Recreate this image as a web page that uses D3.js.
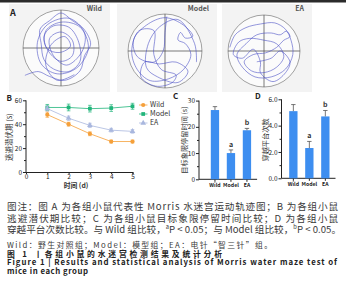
<!DOCTYPE html>
<html><head><meta charset="utf-8">
<script src="https://cdn.jsdelivr.net/npm/d3@7"></script>
<style>
html,body{margin:0;padding:0;background:#fff;}
svg{display:block;}
text{font-family:"Noto Sans CJK SC","Noto Sans",sans-serif;}
</style></head>
<body>
<svg id="c" width="346" height="300"></svg>
<script>
// ---------- DATA ----------
const groups = ["Wild", "Model", "EA"];
const days = [1, 2, 3, 4, 5];
const latencyWild  = [48, 40, 32, 25.5, 25.5];
const latencyModel = [54, 54, 53, 53.5, 55];
const latencyEA    = [53, 45, 39, 35, 34];
const latencyErrWild  = [2.2, 1.6, 1.6, 1.2, 1.2];
const latencyErrModel = [2.5, 2.8, 2.8, 2.8, 2.5];
const latencyErrEA    = [2, 1.8, 1.8, 1.5, 1.5];
const dayTicks = [0, 1, 2, 3, 4, 5];
const latencyTicks = [0, 20, 40, 60];
const quadrantTime = [26.4, 10, 18.7];
const quadrantErr  = [1.3, 1.2, 0.7];
const quadrantTicks = [0, 10, 20, 30];
const quadrantSig = ["", "a", "b"];
const crossings = [5.1, 2.3, 4.7];
const crossingsErr = [0.5, 0.5, 0.45];
const crossingTicks = [0, 2, 4, 6];
const crossingSig = ["", "a", "b"];

// swim paths, pool-normalised coordinates (-1..1)
const pathWild = [[-0.95,0.72],[-0.6,0.62],[-0.3,0.75],[0.1,0.85],[0.5,0.6],[0.62,0.2],[0.78,-0.1],[0.6,-0.5],[0.3,-0.72],[0.0,-0.92],[-0.3,-0.72],[-0.55,-0.5],[-0.52,-0.1],[-0.45,0.3],[-0.2,0.55],[0.2,0.62],[0.5,0.35],[0.45,-0.2],[0.2,-0.55],[-0.2,-0.58],[-0.45,-0.3],[-0.32,0.1],[0.0,0.35],[0.3,0.2],[0.3,-0.2],[0.0,-0.42],[-0.3,-0.25],[-0.2,0.2],[0.15,0.45],[0.55,0.1],[0.62,-0.4],[0.22,-0.78],[-0.35,-0.62],[-0.62,-0.15],[-0.52,0.42],[-0.1,0.68],[0.42,0.52],[0.72,0.0],[0.5,-0.55],[0.0,-0.68],[-0.4,-0.45],[-0.38,0.0],[-0.05,0.12],[0.25,-0.05],[0.1,-0.3],[-0.25,-0.1],[-0.4,0.45],[-0.1,0.85],[0.35,0.7]];
const pathModel = [[0.05,-0.93],[0.0,-0.5],[-0.05,0.0],[-0.3,0.3],[-0.75,0.15],[-0.85,-0.3],[-0.5,-0.7],[0.0,-0.9],[0.5,-0.7],[0.75,-0.4],[0.55,-0.35],[0.42,-0.5],[0.35,-0.3],[0.55,-0.2],[0.7,0.1],[0.5,0.5],[0.1,0.75],[-0.4,0.8],[-0.75,0.5],[-0.9,0.0],[-0.7,-0.55],[-0.3,-0.55],[-0.3,0.1],[-0.1,0.5],[0.3,0.65],[0.2,0.85],[-0.25,0.95],[-0.65,0.7],[-0.55,0.3],[-0.15,0.35],[0.3,0.3],[0.62,0.55],[0.35,0.85],[-0.2,0.7],[-0.5,0.45],[-0.45,-0.2],[-0.15,-0.65],[0.35,-0.85],[0.8,-0.2],[0.85,0.3]];
const pathEA = [[-0.95,-0.1],[-0.8,-0.45],[-0.5,-0.65],[-0.1,-0.75],[0.3,-0.78],[0.6,-0.6],[0.75,-0.3],[0.8,0.1],[0.6,0.5],[0.2,0.72],[-0.25,0.72],[-0.6,0.45],[-0.75,0.1],[-0.5,-0.2],[-0.2,-0.45],[0.2,-0.5],[0.45,-0.45],[0.62,-0.55],[0.72,-0.4],[0.55,-0.3],[0.35,-0.1],[0.05,0.05],[-0.3,0.1],[-0.55,0.3],[-0.35,0.55],[0.0,0.6],[0.35,0.45],[0.55,0.15],[0.35,-0.2],[0.0,-0.3],[-0.4,-0.35],[-0.7,-0.25],[-0.85,0.1],[-0.6,0.2],[-0.3,-0.05],[-0.1,0.3],[-0.1,0.6],[0.25,0.85],[0.6,0.6],[0.72,0.3],[0.45,0.0],[0.2,0.2],[-0.2,0.3]];

// ---------- DRAW ----------
const svg = d3.select("#c");
const sans = "Liberation Sans, Arial, sans-serif";
const capFont = "'Liberation Sans', 'Noto Sans CJK SC', sans-serif";

// top band
svg.append("rect").attr("x",0).attr("y",0).attr("width",346).attr("height",2.5).attr("fill","#2b2b2b");

// ---- Panel A ----
const poolPanels = [
  {name:"Wild",  x0:9,   x1:110, cx:61,  cy:48, r:38, path:pathWild},
  {name:"Model", x0:117, x1:217, cx:165, cy:51, r:37, path:pathModel},
  {name:"EA",    x0:222, x1:312, cx:264, cy:51, r:36, path:pathEA}
];
poolPanels.forEach(p => {
  const g = svg.append("g");
  g.append("rect").attr("x",p.x0).attr("y",4).attr("width",p.x1-p.x0).attr("height",88).attr("fill","#f3f3f3");
  g.append("circle").attr("cx",p.cx).attr("cy",p.cy).attr("r",p.r).attr("fill","#fbfbfb").attr("stroke","#8a8a8a").attr("stroke-width",0.8);
  g.append("line").attr("x1",p.cx-p.r).attr("x2",p.cx+p.r).attr("y1",p.cy).attr("y2",p.cy).attr("stroke","#444").attr("stroke-width",0.7);
  g.append("line").attr("x1",p.cx).attr("x2",p.cx).attr("y1",p.cy-p.r).attr("y2",p.cy+p.r).attr("stroke","#444").attr("stroke-width",0.7);
  const sx = d3.scaleLinear().domain([-1,1]).range([p.cx-p.r, p.cx+p.r]);
  const sy = d3.scaleLinear().domain([-1,1]).range([p.cy-p.r, p.cy+p.r]);
  g.append("path").datum(p.path)
    .attr("d", d3.line().x(d=>sx(d[0])).y(d=>sy(d[1])).curve(d3.curveCatmullRom.alpha(0.5)))
    .attr("fill","none").attr("stroke","#4a4fc4").attr("stroke-width",0.65).attr("opacity",0.9);
  g.append("text").attr("x",p.x1-8).attr("y",11).attr("text-anchor","end")
    .attr("font-size",7).attr("font-weight","bold").attr("fill","#555").attr("font-family",sans).text(p.name);
});
svg.append("text").attr("x",10).attr("y",16).attr("font-size",9).attr("font-weight","bold").attr("fill","#222").attr("font-family",sans).text("A");

// ---- Panel B ----
const xB = d3.scaleLinear().domain([0,5]).range([26,132.5]);
const yB = d3.scaleLinear().domain([0,60]).range([172,100.3]);
const gB = svg.append("g");
gB.append("g").attr("transform","translate(26,0)")
  .call(d3.axisLeft(yB).tickValues(latencyTicks).tickSize(3).tickPadding(1).tickFormat(d3.format("d")))
  .call(g=>g.select(".domain").attr("d","M0,100.3V172"));
gB.append("g").attr("transform","translate(26,0)")
  .call(d3.axisLeft(yB).tickValues([10,30,50]).tickSize(2).tickFormat(""))
  .call(g=>g.select(".domain").remove());
gB.append("g").attr("transform","translate(0,172)")
  .call(d3.axisBottom(xB).tickValues(dayTicks).tickSize(2).tickPadding(0.5).tickFormat(d3.format("d")));
gB.selectAll(".tick text").attr("font-size",6.5).attr("fill","#222").attr("font-family",sans);
gB.selectAll("path.domain, .tick line").attr("stroke","#222");
svg.append("text").attr("x",6.5).attr("y",101).attr("font-size",8).attr("font-weight","bold").attr("fill","#222").attr("font-family",sans).text("B");
svg.append("text").attr("transform","translate(12,137) rotate(-90)").attr("text-anchor","middle")
  .attr("font-size",7.5).attr("fill","#333").text("逃避潜伏期 (s)");
svg.append("text").attr("x",76).attr("y",188).attr("text-anchor","middle")
  .attr("font-size",6.8).attr("font-weight","bold").attr("fill","#333").text("时间 (d)");

const seriesB = [
  {name:"Wild",  vals:latencyWild,  err:latencyErrWild,  color:"#f5a03a", shape:d3.symbolCircle},
  {name:"Model", vals:latencyModel, err:latencyErrModel, color:"#21b57b", shape:d3.symbolSquare},
  {name:"EA",    vals:latencyEA,    err:latencyErrEA,    color:"#a9b7de", shape:d3.symbolTriangle}
];
const lineB = d3.line().x((d,i)=>xB(days[i])).y(d=>yB(d));
seriesB.forEach(s => {
  const g = gB.append("g");
  s.vals.forEach((v,i)=>{
    const x = xB(days[i]);
    g.append("line").attr("x1",x).attr("x2",x).attr("y1",yB(v-s.err[i])).attr("y2",yB(v+s.err[i])).attr("stroke",s.color).attr("stroke-width",0.7);
    [v-s.err[i], v+s.err[i]].forEach(e=>g.append("line").attr("x1",x-1.8).attr("x2",x+1.8).attr("y1",yB(e)).attr("y2",yB(e)).attr("stroke",s.color).attr("stroke-width",0.7));
  });
  g.append("path").datum(s.vals).attr("d",lineB).attr("fill","none").attr("stroke",s.color).attr("stroke-width",0.8);
  g.selectAll("path.m").data(s.vals).enter().append("path").attr("class","m")
    .attr("transform",(d,i)=>`translate(${xB(days[i])},${yB(d)})`)
    .attr("d",d3.symbol().type(s.shape).size(14)).attr("fill",s.color);
});
// legend
seriesB.forEach((s,i)=>{
  const y = 105 + i*9;
  svg.append("line").attr("x1",139).attr("x2",147.5).attr("y1",y).attr("y2",y).attr("stroke",s.color).attr("stroke-width",0.8);
  svg.append("path").attr("transform",`translate(143.2,${y})`).attr("d",d3.symbol().type(s.shape).size(14)).attr("fill",s.color);
  svg.append("text").attr("x",150).attr("y",y+2.4).attr("font-size",7).attr("fill","#333").attr("font-family",sans).text(s.name);
});

// ---- Bar panels C and D ----
function barPanel(opt){
  const x = d3.scaleBand().domain(groups).range([opt.x0+opt.off, opt.x0+opt.off+40.3]).paddingInner(0.48).paddingOuter(0);
  const y = d3.scaleLinear().domain([0,opt.max]).range([opt.y0, opt.yTop]);
  const g = svg.append("g");
  const ya = g.append("g").attr("transform",`translate(${opt.x0},0)`)
    .call(d3.axisLeft(y).tickValues(opt.ticks).tickSize(3).tickPadding(1))
    .call(a=>a.select(".domain").attr("d",`M0,${opt.yTop}V${opt.y0}`));
  ya.selectAll("text").attr("font-size",6.5).attr("fill","#222").attr("font-family",sans);
  g.append("g").attr("transform",`translate(${opt.x0},0)`)
    .call(d3.axisLeft(y).tickValues(opt.minor).tickSize(2).tickFormat(""))
    .call(a=>a.select(".domain").remove());
  const xa = g.append("g").attr("transform",`translate(0,${opt.y0})`)
    .call(d3.axisBottom(x).tickSize(2.5).tickPadding(1.5));
  xa.select(".domain").attr("d",`M${opt.x0},0H${opt.x0+opt.off+40.3+6}`);
  xa.selectAll("text").attr("font-size",5.2).attr("font-weight","bold").attr("font-family","Liberation Serif, Times New Roman, serif").attr("fill","#222");
  g.selectAll("path.domain, .tick line").attr("stroke","#222");
  opt.vals.forEach((v,i)=>{
    const bx = x(groups[i]), bw = x.bandwidth(), cx = bx+bw/2;
    g.append("rect").attr("x",bx).attr("y",y(v)).attr("width",bw).attr("height",opt.y0-y(v)).attr("fill","#3d8ef0");
    const e = opt.err[i];
    g.append("line").attr("x1",cx).attr("x2",cx).attr("y1",y(v)).attr("y2",y(v+e)).attr("stroke","#555").attr("stroke-width",0.8);
    g.append("line").attr("x1",cx-2.2).attr("x2",cx+2.2).attr("y1",y(v+e)).attr("y2",y(v+e)).attr("stroke","#555").attr("stroke-width",0.8);
    if(opt.sig[i]) g.append("text").attr("x",cx).attr("y",y(v+e)-3).attr("text-anchor","middle")
      .attr("font-size",7).attr("font-weight","bold").attr("fill","#333").attr("font-family",sans).text(opt.sig[i]);
  });
  svg.append("text").attr("x",opt.letterX).attr("y",99).attr("font-size",8).attr("font-weight","bold").attr("fill","#222").attr("font-family",sans).text(opt.letter);
  svg.append("text").attr("transform",`translate(${opt.titleX},140) rotate(-90)`).attr("text-anchor","middle")
    .attr("font-size",7.2).attr("fill","#333").text(opt.title);
}
barPanel({x0:199, off:11.8, y0:179.3, yTop:100.6, max:30, ticks:quadrantTicks, minor:[5,15,25], vals:quadrantTime, err:quadrantErr, sig:quadrantSig, letter:"C", letterX:173, titleX:186.5, title:"目标象限停留时间 (s)"});
barPanel({x0:281.5, off:7.7, y0:178.3, yTop:99.3, max:6, ticks:crossingTicks, minor:[1,3,5], vals:crossings, err:crossingsErr, sig:crossingSig, letter:"D", letterX:255, titleX:268, title:"穿越平台次数"});

// ---- Caption ----
const cap = svg.append("g").attr("fill","#3a3a3a");
function capLine(y,size,len,weight,segs,fill){
  const t = cap.append("text").attr("x",7).attr("y",y).attr("font-size",size).attr("font-weight",weight||"normal").attr("font-family",capFont);
  if(fill) t.attr("fill",fill);
  if(len) t.attr("textLength",len).attr("lengthAdjust","spacing");
  segs.forEach(s=>{
    if(typeof s === "object"){ t.append("tspan").attr("font-size",size*0.6).attr("baseline-shift","super").text(s.sup); }
    else t.append("tspan").text(s);
  });
}
capLine(210.2, 9.6, 331, "normal", ["图注：图 A 为各组小鼠代表性 Morris 水迷宫运动轨迹图；B 为各组小鼠"]);
capLine(221.7, 9.6, 331, "normal", ["逃避潜伏期比较；C 为各组小鼠目标象限停留时间比较；D 为各组小鼠"]);
capLine(233.0, 9.6, 334, "normal", ["穿越平台次数比较。与 Wild 组比较，",{sup:"a"},"P < 0.05；与 Model 组比较，",{sup:"b"},"P < 0.05。"]);
capLine(248.0, 7.8, 265, "normal", ["Wild：野生对照组；Model：模型组；EA：电针“智三针”组。"]);
capLine(256.6, 7.8, 215, "bold", ["图 1 丨各组小鼠的水迷宫检测结果及统计分析"], "#222");
capLine(265.4, 7.8, 330, "bold", ["Figure 1  |  Results and statistical analysis of Morris water maze test of"], "#222");
capLine(274.0, 7.8, 81, "bold", ["mice in each group"], "#222");
</script>
</body></html>
